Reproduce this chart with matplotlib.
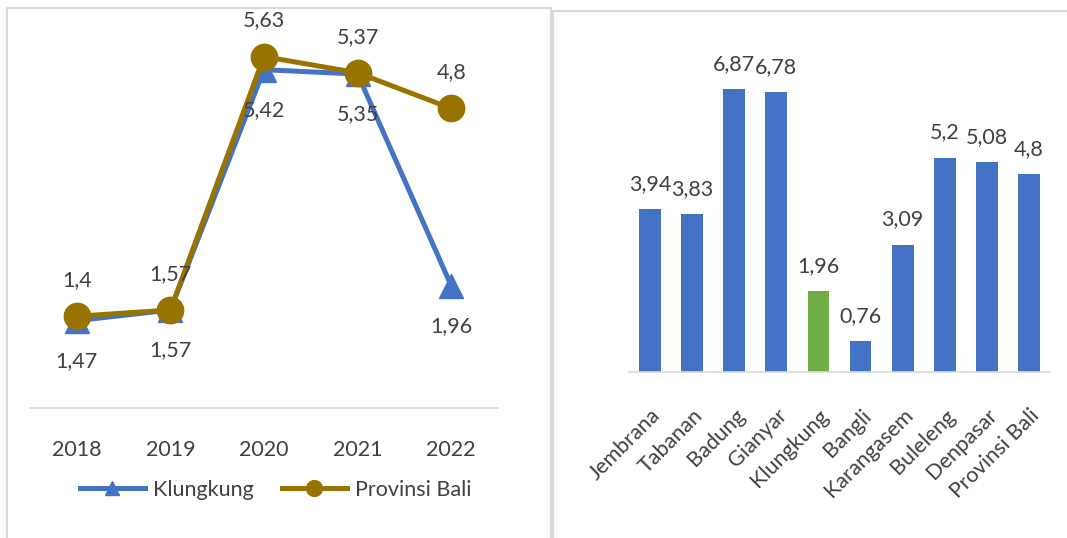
import matplotlib.pyplot as plt
from matplotlib.patches import Rectangle

plt.rcParams['font.family'] = ['Lato', 'DejaVu Sans']

years = ['2018', '2019', '2020', '2021', '2022']
klungkung = [1.40, 1.57, 5.42, 5.35, 1.96]
bali = [1.47, 1.57, 5.63, 5.37, 4.80]
klungkung_labels = ['1,47', '1,57', '5,42', '5,35', '1,96']
bali_labels = ['1,4', '1,57', '5,63', '5,37', '4,8']

regions = ['Jembrana', 'Tabanan', 'Badung', 'Gianyar', 'Klungkung', 'Bangli',
           'Karangasem', 'Buleleng', 'Denpasar', 'Provinsi Bali']
region_values = [3.94, 3.83, 6.87, 6.78, 1.96, 0.76, 3.09, 5.20, 5.08, 4.80]
region_labels = ['3,94', '3,83', '6,87', '6,78', '1,96', '0,76', '3,09', '5,2', '5,08', '4,8']

BLUE = '#4472C4'
GREEN = '#70AD47'
GOLD = '#997300'
TEXT = '#404040'
GRID = '#d9d9d9'
FS = 15.5

fig = plt.figure(figsize=(10.67, 5.38), dpi=100)

# panel borders
fig.patches.append(Rectangle((7 / 1067, -0.01), 544 / 1067, 1 - 8 / 538 + 0.01,
                             transform=fig.transFigure, fill=False,
                             edgecolor=GRID, linewidth=1.5))
fig.patches.append(Rectangle((553 / 1067, -0.01), 520 / 1067, 1 - 11 / 538 + 0.01,
                             transform=fig.transFigure, fill=False,
                             edgecolor=GRID, linewidth=1.5))

# left: line chart
ax1 = fig.add_axes([30 / 1067, 130 / 538, 468 / 1067, 387 / 538])
x = range(len(years))
ax1.plot(x, klungkung, color=BLUE, lw=3.6, marker='^', ms=17, label='Klungkung', zorder=2)
ax1.plot(x, bali, color=GOLD, lw=3.6, marker='o', ms=19, label='Provinsi Bali', zorder=3)
for i in x:
    ax1.annotate(bali_labels[i], (i, bali[i]), xytext=(0, 26), textcoords='offset points',
                 ha='center', va='center', fontsize=FS, color=TEXT)
    ax1.annotate(klungkung_labels[i], (i, klungkung[i]), xytext=(0, -29),
                 textcoords='offset points', ha='center', va='center', fontsize=FS, color=TEXT)
ax1.set_xlim(-0.5, 4.5)
ax1.set_ylim(0, 6.2)
ax1.set_xticks(list(x))
ax1.set_xticklabels(years)
ax1.tick_params(axis='x', length=0, pad=23, labelsize=FS, labelcolor=TEXT)
ax1.set_yticks([])
for s in ['top', 'right', 'left']:
    ax1.spines[s].set_visible(False)
ax1.spines['bottom'].set_color(GRID)
ax1.spines['bottom'].set_linewidth(1.2)
ax1.patch.set_alpha(0)
leg = fig.legend(loc='center', bbox_to_anchor=(276 / 1067, 48 / 538), ncol=2,
                 frameon=False, fontsize=FS, handlelength=3.0, columnspacing=1.3,
                 handletextpad=0.4, markerscale=0.6)
for t in leg.get_texts():
    t.set_color(TEXT)

# right: bar chart
ax2 = fig.add_axes([629 / 1067, 166 / 538, 421 / 1067, 330 / 538])
colors = [GREEN if r == 'Klungkung' else BLUE for r in regions]
bars = ax2.bar(range(len(regions)), region_values, width=0.52, color=colors)
for i, b in enumerate(bars):
    ax2.annotate(region_labels[i], (b.get_x() + b.get_width() / 2, b.get_height()),
                 xytext=(0, 18), textcoords='offset points', ha='center', va='center',
                 fontsize=FS, color=TEXT)
ax2.set_xlim(-0.5, 9.5)
ax2.set_ylim(0, 8)
ax2.set_xticks(range(len(regions)))
ax2.set_xticklabels(regions, rotation=45, ha='right', rotation_mode='anchor')
ax2.tick_params(axis='x', length=0, pad=24, labelsize=FS, labelcolor=TEXT)
ax2.set_yticks([])
for s in ['top', 'right', 'left']:
    ax2.spines[s].set_visible(False)
ax2.spines['bottom'].set_color(GRID)
ax2.spines['bottom'].set_linewidth(1.2)
ax2.patch.set_alpha(0)

fig.savefig('out.png', dpi=100)
